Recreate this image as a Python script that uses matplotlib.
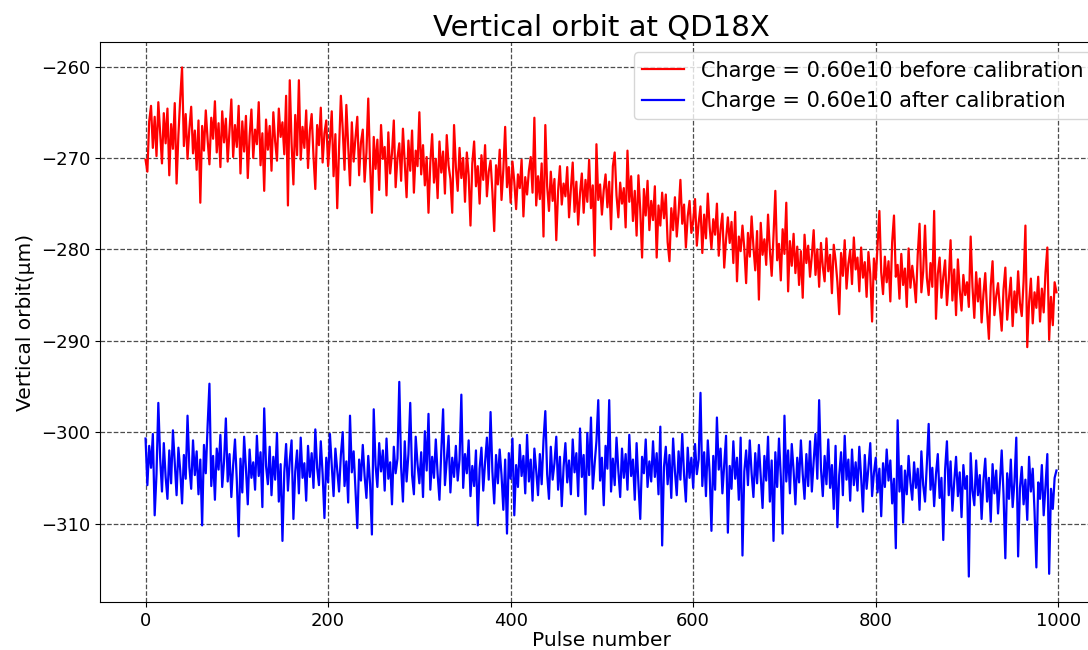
import matplotlib
matplotlib.use("Agg")
import matplotlib.pyplot as plt
import numpy as np

# pulse numbers (every 2nd pulse)
pulse = np.arange(0, 1000, 2)

# orbit before calibration (um)
before = [
    -270.2, -271.5, -266.0, -264.3, -268.9, -265.5, -269.8, -263.9, -267.2, -270.6,
    -265.1, -268.4, -264.6, -271.9, -266.3, -269.0, -264.0, -272.8, -267.5, -263.5,
    -260.1, -268.7, -265.2, -270.1, -266.8, -264.4, -269.5, -267.0, -271.3, -265.9,
    -274.9, -266.5, -269.2, -264.8, -268.0, -270.7, -265.6, -267.9, -263.8, -269.4,
    -266.2, -271.0, -264.9, -268.3, -265.7, -270.4, -267.1, -263.6, -269.9, -266.4,
    -268.8, -264.3, -271.7, -266.0, -269.3, -265.4, -272.2, -267.6, -264.7, -270.0,
    -266.9, -268.5, -263.9, -270.8, -267.3, -273.6, -265.8, -269.1, -266.5, -271.4,
    -265.0, -268.2, -270.3, -264.6, -267.7, -266.1, -269.6, -263.2, -275.2, -261.5,
    -268.4, -272.9, -265.3, -269.7, -261.5, -270.2, -266.6, -268.9, -264.8, -271.1,
    -267.0, -265.2, -269.8, -273.4, -266.4, -268.6, -264.5, -270.5, -267.3, -265.9,
    -270.9, -268.1, -264.9, -272.0, -267.4, -275.5, -269.0, -263.2, -266.8, -271.3,
    -264.2, -268.7, -273.0, -266.1, -270.4, -267.8, -265.5, -271.9, -268.3, -266.9,
    -272.6, -269.4, -263.5, -270.8, -276.0, -267.7, -271.2, -268.0, -273.5, -266.4,
    -270.1, -268.8, -274.1, -267.2, -271.7, -269.5, -265.9, -273.2, -270.0, -268.4,
    -272.5, -266.8, -270.6, -274.3, -268.1, -271.4, -267.0, -273.8, -269.2, -270.9,
    -265.0, -271.8, -268.6, -273.0, -269.9, -276.0, -270.5, -267.4, -272.7, -270.1,
    -274.4, -268.2, -271.6, -269.3, -273.9, -267.5, -270.8, -272.3, -276.0, -266.4,
    -271.0, -273.6, -268.9, -272.2, -270.0, -274.8, -269.4, -271.9, -277.4, -270.6,
    -268.2, -273.1, -270.9, -275.0, -269.7, -272.4, -268.6, -274.2, -271.5, -270.3,
    -273.7, -278.0, -270.8, -272.9, -269.1, -274.6, -271.3, -266.6, -273.2, -271.0,
    -274.9, -270.4, -272.6, -275.6, -271.8, -273.3, -270.2, -276.4, -272.1, -274.0,
    -271.4, -269.9, -273.8, -265.6, -275.2, -272.0, -274.5, -270.6, -278.6, -266.4,
    -273.1, -275.8, -271.5, -274.7, -272.3, -279.0, -273.6, -270.9, -275.1, -272.8,
    -274.2, -271.0, -276.5, -273.4, -270.5, -275.9, -272.6, -277.3, -273.9, -271.7,
    -276.0, -272.4, -274.8, -270.2, -275.5, -273.0, -280.7, -268.5, -274.6, -272.9,
    -276.2, -273.5, -271.8, -275.4, -272.6, -277.8, -270.9, -269.4, -274.1, -276.5,
    -272.7, -275.0, -273.3, -277.6, -269.2, -274.8, -272.0, -276.9, -273.6, -278.5,
    -271.9, -275.7, -280.9, -273.4, -276.3, -272.5, -277.9, -274.7, -276.8, -273.1,
    -280.9, -275.2, -277.4, -273.8, -276.6, -274.0, -279.2, -281.3, -275.5, -277.9,
    -274.3, -278.6, -276.0, -272.4, -277.2, -275.1, -279.8, -276.4, -274.7, -278.2,
    -276.9, -274.5, -279.6, -277.1, -275.3, -280.4, -276.2, -278.8, -273.9, -277.5,
    -279.9, -276.7, -278.4, -275.0, -280.7, -277.8, -276.1, -282.0, -278.9, -276.5,
    -279.3, -277.0, -281.5, -275.9, -283.5, -278.6, -280.2, -277.4, -279.9, -283.7,
    -278.2, -280.8, -276.4, -279.7, -282.3, -278.0, -285.5, -277.1, -280.6, -278.9,
    -281.7, -276.2, -280.1, -282.9, -278.5, -273.6, -281.2, -279.4, -283.4, -277.8,
    -280.5, -274.9, -284.6, -279.1, -281.8, -278.3, -282.6, -279.7, -283.9, -280.2,
    -285.3, -278.4, -281.5, -279.6, -283.0, -280.7, -277.9, -282.8, -280.0, -284.1,
    -279.3, -281.9, -283.5, -278.8, -282.4, -280.6, -284.8, -279.5, -281.2, -283.6,
    -287.1, -280.4, -282.9, -279.0, -284.3, -281.6, -280.1, -283.8, -278.7, -282.2,
    -280.9, -284.6, -279.8, -283.1, -281.4, -285.2, -280.3, -282.7, -287.9, -281.0,
    -283.3, -279.6, -275.8, -282.5, -284.9, -280.8, -283.6, -281.3, -285.7, -279.2,
    -276.3, -283.0, -281.7, -285.4, -280.5, -283.9, -282.1, -286.3, -279.9, -284.2,
    -281.8, -283.5, -285.8, -280.6, -277.2, -284.7, -282.4, -277.4, -283.1, -285.0,
    -281.5, -284.1, -275.8, -287.6, -282.7, -280.9, -285.3, -283.0, -281.2, -286.1,
    -283.4, -279.0, -285.6, -282.2, -287.2, -281.1, -284.4, -286.7, -282.8, -285.0,
    -283.6, -286.3, -278.6, -284.1, -287.5, -282.5, -285.7, -283.2, -288.0, -284.9,
    -282.6, -286.8, -289.8, -284.0, -281.3, -287.2, -285.1, -283.7, -286.5, -288.9,
    -284.4, -282.0, -287.7, -285.3, -283.1, -288.4, -284.6, -286.9, -282.4, -285.9,
    -287.3, -283.5, -277.4, -290.7, -285.8, -283.2, -288.1, -284.7, -286.4, -283.0,
    -287.9, -284.3, -286.9, -282.5, -279.8, -289.9, -285.2, -288.3, -283.6, -284.7,
]

# orbit after calibration (um)
after = [
    -300.7, -305.8, -301.5, -303.9, -300.2, -309.1, -304.6, -296.8, -302.8, -306.5,
    -301.2, -304.9, -307.3, -302.0, -305.6, -299.8, -303.4, -306.9, -301.7, -304.2,
    -307.8, -302.5, -305.1, -298.2, -303.8, -306.2, -300.9, -304.7, -302.1, -306.8,
    -303.0, -310.2, -301.4, -304.5, -299.3, -294.7, -305.9, -302.6, -307.4, -301.8,
    -304.1, -300.3, -306.0, -303.2, -298.5, -305.4, -302.4, -307.1, -303.6, -300.8,
    -305.3, -311.4, -302.9, -306.6, -300.5, -304.0, -307.9, -301.9, -305.0, -303.3,
    -306.3, -300.4, -304.8, -302.2, -308.2, -297.4, -303.7, -305.7, -301.6, -306.9,
    -302.7, -305.2, -300.1, -307.6, -303.5, -311.9, -304.4, -301.3, -306.4, -303.1,
    -300.9, -309.5, -304.3, -302.0, -306.7, -300.6, -305.0, -303.4, -307.5, -301.5,
    -304.9, -302.3, -306.1, -299.7, -303.9, -305.8, -301.0, -304.6, -309.4, -302.8,
    -305.5, -300.2, -303.7, -307.0, -301.8, -304.1, -306.5, -302.5, -300.0, -305.9,
    -303.2, -307.7, -298.2, -304.4, -302.1, -306.2, -310.5, -303.0, -305.3, -301.4,
    -304.8, -307.2, -302.6, -305.7, -311.2, -297.5, -303.6, -306.0, -301.2, -304.3,
    -302.0, -306.4, -300.7, -305.1, -303.3, -307.9, -301.6, -304.5, -302.9, -294.5,
    -303.8, -307.6, -301.0, -305.4, -302.4, -296.8, -304.7, -306.8, -300.5, -303.5,
    -305.6, -302.2, -307.1, -299.9, -304.2, -298.0, -306.3, -302.7, -305.0, -300.8,
    -304.6, -307.4, -302.1, -297.5, -305.8, -303.1, -300.4, -306.6, -302.8, -304.9,
    -301.5, -305.3, -303.0, -295.9, -306.1, -302.4, -304.5, -300.9, -307.0, -303.7,
    -305.9, -302.0, -310.2, -304.0, -301.7, -306.4, -303.3, -300.6, -305.2, -297.8,
    -304.3, -307.8, -302.5, -305.6, -301.9, -304.7, -308.5, -303.0, -311.1, -302.3,
    -305.1, -300.7, -309.1, -303.6, -306.0, -301.4, -304.8, -302.6, -306.7, -300.3,
    -305.4, -303.0, -307.5, -301.8, -304.2, -306.9, -302.4, -305.7, -300.9, -297.7,
    -304.6, -307.3, -301.6, -305.2, -303.4, -300.5, -306.3, -302.7, -308.1, -303.8,
    -301.2, -305.5, -303.1, -306.8, -300.8, -304.4, -302.3, -307.0, -299.6, -304.9,
    -302.5, -309.0, -300.1, -304.7, -298.4, -306.2, -303.5, -301.0, -296.5, -305.3,
    -302.8, -308.0, -301.5, -304.0, -296.5, -306.5, -302.9, -305.8, -300.6, -304.2,
    -307.1, -301.8, -305.0, -302.4, -306.3, -300.3, -304.8, -303.0, -307.4, -301.2,
    -305.6, -309.5, -302.7, -304.5, -300.8, -306.0, -303.2, -305.4, -301.0, -304.9,
    -302.3, -306.8, -299.4, -312.4, -303.8, -301.6, -305.7, -302.5, -307.2, -300.7,
    -304.3, -306.9, -302.1, -305.2, -300.2, -304.7, -307.6, -301.7, -305.0, -302.8,
    -306.1, -301.3, -304.6, -303.0, -295.7, -305.9, -302.2, -307.0, -300.9, -304.4,
    -310.8, -302.6, -306.3, -298.4, -304.1, -301.8, -306.7, -303.5, -300.4, -311.0,
    -303.7, -306.2, -301.0, -305.1, -302.8, -307.4, -300.6, -313.5, -304.3, -302.0,
    -305.8, -300.9, -304.5, -307.1, -302.3, -305.6, -301.4, -304.8, -308.3, -302.6,
    -305.3, -300.5, -307.6, -303.1, -311.9, -302.2, -306.0, -300.7, -304.9, -311.1,
    -298.2, -305.4, -302.0, -306.7, -301.3, -304.2, -307.9, -302.8, -305.5, -300.9,
    -304.6, -307.3, -302.4, -305.9, -301.0, -306.5, -303.2, -300.2, -305.1, -296.5,
    -304.0, -307.0, -302.6, -305.7, -300.8, -306.1, -303.6, -308.4, -301.5, -310.4,
    -304.7, -302.2, -306.9, -300.4, -305.2, -303.0, -307.5, -301.9, -305.8, -303.3,
    -306.4, -301.6, -304.9, -308.7, -302.5, -306.2, -303.9, -301.2, -307.0, -304.5,
    -302.8, -306.6, -304.0, -309.2, -303.4, -306.0, -301.9, -305.3, -303.1, -307.8,
    -305.1, -312.7, -298.7, -306.5, -303.7, -309.9, -304.2, -306.8, -302.6, -305.5,
    -307.4, -303.3, -306.1, -304.0, -308.5, -302.1, -305.8, -307.6, -303.5, -299.1,
    -306.3, -303.9, -308.1, -304.6, -302.4, -307.2, -305.0, -311.8, -304.1, -301.0,
    -306.9, -303.2, -308.6, -305.4, -302.7, -307.0, -304.4, -309.3, -303.6, -306.2,
    -304.8, -315.8, -302.3, -306.4, -308.0, -303.1, -306.9, -304.7, -309.5, -305.3,
    -302.9, -307.6, -305.0, -309.8, -303.5, -306.7, -304.2, -308.9, -305.6, -302.0,
    -306.8, -313.8, -304.5, -307.3, -303.0, -308.2, -305.4, -300.6, -313.6, -306.1,
    -303.8, -307.9, -305.2, -309.6, -302.7, -306.5, -304.0, -308.7, -314.8, -305.5,
    -307.3, -303.6, -309.1, -305.9, -302.4, -315.5, -306.2, -308.4, -305.0, -304.2,
]

fig = plt.figure(figsize=(10.88, 6.5), dpi=100)
# axes runs past the right edge, as in the (cropped) original
ax = fig.add_axes([100 / 1088, 48 / 650, 1002 / 1088, 560 / 650])

ax.plot(pulse, before, color='red', lw=1.6, label='Charge = 0.60e10 before calibration')
ax.plot(pulse, after, color='blue', lw=1.6, label='Charge = 0.60e10 after calibration')

ax.grid(True, linestyle='--', color='0.3', lw=0.9)
ax.set_xticks([0, 200, 400, 600, 800, 1000])
ax.set_yticks([-260, -270, -280, -290, -300, -310])
ax.tick_params(labelsize=13)

ax.set_xlabel('Pulse number', fontsize=14.5, labelpad=1)
ax.set_ylabel('Vertical orbit(μm)', fontsize=14.5)
ax.set_title('Vertical orbit at QD18X', fontsize=21, pad=4)

ax.legend(loc='upper right', fontsize=15)

fig.savefig('out.png', dpi=100)
